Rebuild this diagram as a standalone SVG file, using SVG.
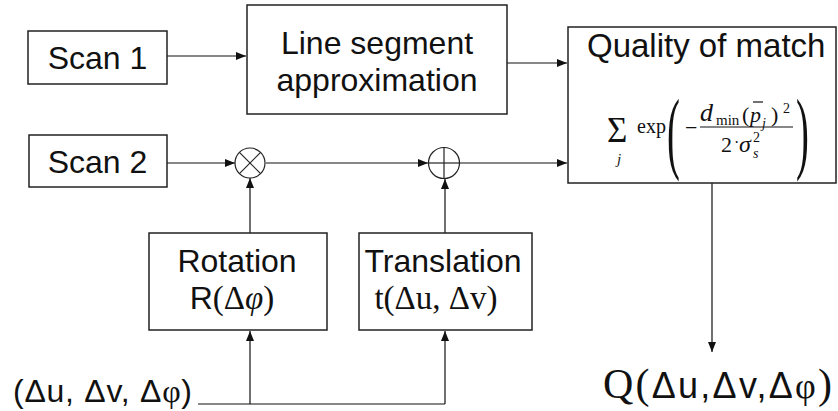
<svg xmlns="http://www.w3.org/2000/svg" width="838" height="411" viewBox="0 0 838 411">
  <style>
    .box { fill: #fff; stroke: #222; stroke-width: 1.5; }
    .lbl { font-family: "Liberation Sans", Arial, sans-serif; font-size: 32px; fill: #111; }
    .ser { font-family: "Liberation Serif", "Times New Roman", serif; fill: #111; }
    .it { font-style: italic; }
    .wire { fill: none; stroke: #111; stroke-width: 1.2; }
    .op { fill: #fff; stroke: #222; stroke-width: 1.2; }
  </style>
  <defs>
    <marker id="arrow" markerUnits="userSpaceOnUse" markerWidth="11" markerHeight="9" refX="10" refY="4" orient="auto">
      <path d="M0,0 L10,4 L0,8 z" fill="#111"/>
    </marker>
  </defs>

  <rect width="838" height="411" fill="#fff"/>

  <!-- connectors -->
  <g id="connectors">
    <line class="wire" x1="167" y1="56" x2="246" y2="56" marker-end="url(#arrow)"/>
    <line class="wire" x1="507" y1="63" x2="567" y2="63" marker-end="url(#arrow)"/>
    <line class="wire" x1="167" y1="163" x2="235" y2="163" marker-end="url(#arrow)"/>
    <line class="wire" x1="266" y1="163" x2="428" y2="163" marker-end="url(#arrow)"/>
    <line class="wire" x1="459" y1="163" x2="567" y2="163" marker-end="url(#arrow)"/>
    <line class="wire" x1="250" y1="233" x2="250" y2="178" marker-end="url(#arrow)"/>
    <line class="wire" x1="445" y1="233" x2="445" y2="179" marker-end="url(#arrow)"/>
    <line class="wire" x1="198" y1="404" x2="445" y2="404"/>
    <line class="wire" x1="250" y1="404" x2="250" y2="331" marker-end="url(#arrow)"/>
    <line class="wire" x1="445" y1="404" x2="445" y2="331" marker-end="url(#arrow)"/>
    <line class="wire" x1="712" y1="183" x2="712" y2="352" marker-end="url(#arrow)"/>
  </g>

  <g id="scan1">
    <rect class="box" x="28" y="31" width="139" height="53"/>
    <text class="lbl" x="97.5" y="69" text-anchor="middle">Scan 1</text>
  </g>

  <g id="scan2">
    <rect class="box" x="29" y="135" width="138" height="52"/>
    <text class="lbl" x="97.5" y="173" text-anchor="middle">Scan 2</text>
  </g>

  <g id="line-segment">
    <rect class="box" x="247" y="5" width="260" height="109"/>
    <text class="lbl" x="377" y="54" text-anchor="middle">Line segment</text>
    <text class="lbl" x="377" y="91" text-anchor="middle">approximation</text>
  </g>

  <g id="quality">
    <rect class="box" x="568" y="27" width="268" height="156"/>
    <text class="lbl" x="587" y="57" style="font-size:33px">Quality of match</text>
    <!-- sum_j exp( - d_min(p_j)^2 / (2 sigma_s^2) ) -->
    <text class="ser" x="607" y="142" font-size="35">Σ</text>
    <text class="ser it" x="617" y="164" font-size="15">j</text>
    <text class="ser" x="637" y="133" font-size="20">exp</text>
    <text class="ser" transform="translate(667,162) scale(0.42,1)" font-size="92">(</text>
    <text class="ser" x="685" y="135" font-size="22">−</text>
    <line x1="700" y1="127" x2="793" y2="127" stroke="#111" stroke-width="1.2"/>
    <text class="ser it" x="700" y="121" font-size="26">d</text>
    <text class="ser" x="716" y="125" font-size="15">min</text>
    <text class="ser" x="742" y="122" font-size="22">(</text>
    <text class="ser it" x="750" y="122" font-size="22">p</text>
    <line x1="753" y1="102" x2="763" y2="102" stroke="#111" stroke-width="1.2"/>
    <text class="ser it" x="762" y="128" font-size="14">j</text>
    <text class="ser" x="771" y="122" font-size="22">)</text>
    <text class="ser" x="783" y="113" font-size="14">2</text>
    <text class="ser" x="721" y="152" font-size="22">2</text>
    <text class="ser" x="734" y="148" font-size="16">·</text>
    <text class="ser it" x="739" y="152" font-size="24">σ</text>
    <text class="ser it" x="753" y="158" font-size="14">s</text>
    <text class="ser" x="753" y="142" font-size="14">2</text>
    <text class="ser" transform="translate(796,162) scale(0.42,1)" font-size="92">)</text>
  </g>

  <g id="rotate-op">
    <circle class="op" cx="250" cy="163" r="15"/>
    <line x1="239.4" y1="152.4" x2="260.6" y2="173.6" stroke="#222" stroke-width="1.2"/>
    <line x1="260.6" y1="152.4" x2="239.4" y2="173.6" stroke="#222" stroke-width="1.2"/>
  </g>

  <g id="translate-op">
    <circle class="op" cx="444" cy="163" r="15.5"/>
    <line x1="428.5" y1="163" x2="459.5" y2="163" stroke="#222" stroke-width="1.2"/>
    <line x1="444" y1="147.5" x2="444" y2="178.5" stroke="#222" stroke-width="1.2"/>
  </g>

  <g id="rotation">
    <rect class="box" x="149" y="233" width="178" height="97"/>
    <text class="lbl" x="237" y="272" text-anchor="middle">Rotation</text>
    <text x="232" y="309" text-anchor="middle"><tspan class="lbl">R</tspan><tspan class="ser" font-size="33">(Δ<tspan class="it">φ</tspan>)</tspan></text>
  </g>

  <g id="translation">
    <rect class="box" x="359" y="233" width="173" height="97"/>
    <text class="lbl" x="443" y="272" text-anchor="middle">Translation</text>
    <text class="ser" x="436" y="309" text-anchor="middle" font-size="33">t(Δu, Δv)</text>
  </g>

  <g id="params">
    <text class="lbl" x="13" y="402" textLength="179" lengthAdjust="spacing">(Δu, Δv, Δ<tspan class="ser">φ</tspan>)</text>
  </g>

  <g id="result">
    <text x="603" y="398" textLength="229" lengthAdjust="spacing"><tspan class="ser" font-size="42">Q(</tspan><tspan class="lbl" style="font-size:36px">Δu,Δv,Δ</tspan><tspan class="ser" font-size="36">φ</tspan><tspan class="ser" font-size="42">)</tspan></text>
  </g>
</svg>
